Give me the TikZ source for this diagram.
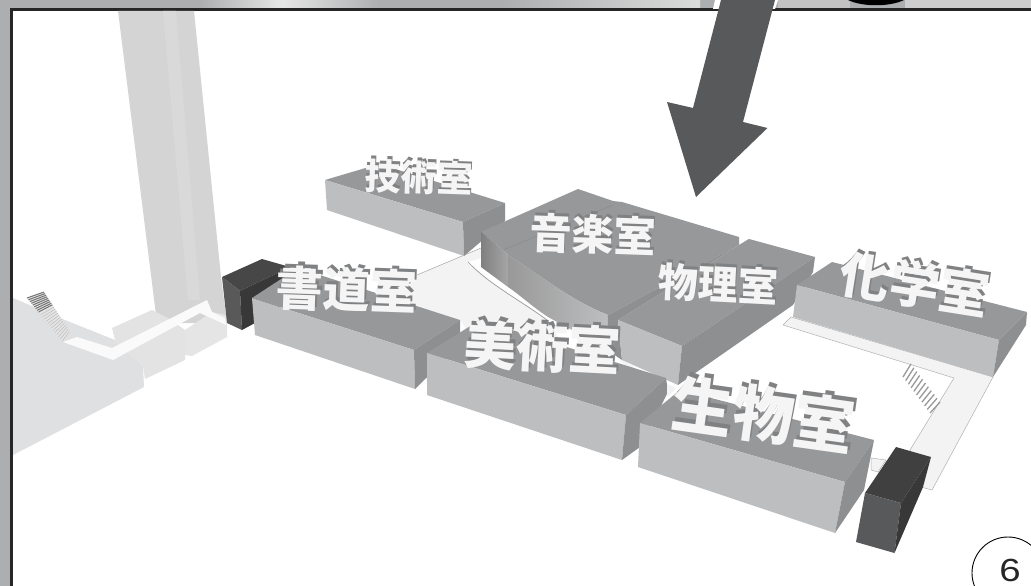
\documentclass[tikz,border=0pt]{standalone}
\usepackage{fontspec}
\setsansfont{Liberation Sans}
\newfontfamily\cjkfont{Noto Sans CJK JP Black}
\usetikzlibrary{calc}
\definecolor{topc}{HTML}{97989A}
\definecolor{leftc}{HTML}{BDBEC0}
\definecolor{rightc}{HTML}{8E8F91}
\definecolor{bandc}{HTML}{ADAEAF}
\definecolor{pale}{HTML}{DFE0E1}
\definecolor{floorc}{HTML}{F3F3F3}
\definecolor{arrowc}{HTML}{58595B}
\definecolor{extr}{HTML}{808183}
\tikzset{
  topface/.style={fill=topc},
  leftface/.style={fill=leftc},
  rightface/.style={fill=rightc},
  paleface/.style={fill=pale},
  floorface/.style={fill=floorc,draw=black!30,line width=.5pt},
  roomlabel/.style={inner sep=0pt,text=white!96!black,font=\cjkfont}
}
\newcommand{\roomtext}[5]{% name, pos, size, angle, text
  \node[roomlabel,rotate=#4] (#1) at (#2) {\fontsize{#3}{#3}\selectfont
    \rlap{\raisebox{.07em}{\hspace{.03em}\textcolor{extr}{#5}}}#5};
}
\begin{document}
\begin{tikzpicture}[x=1pt,y=-1pt]
\useasboundingbox (0,0) rectangle (1031,586);
% surround
\fill[bandc] (0,0) rectangle (1031,586);
\shade[left color=bandc,right color=white!70!bandc] (200,0) rectangle (282,9);
\shade[left color=white!70!bandc,right color=bandc] (282,0) rectangle (380,9);
\shade[left color=bandc,right color=white!55!bandc] (500,0) rectangle (700,9);
\fill[white!25!bandc] (778,0) rectangle (850,9);
\fill[white!40!bandc] (905,0) rectangle (1031,9);
\fill[black] (848,0) .. controls (862,7) and (890,7) .. (904,0) -- cycle;
% panel
\fill[white] (12,9.5) rectangle (1031,586);
\draw[black!85,line width=2.6pt] (11.5,586) -- (11.5,9.5) -- (1031,9.5);

% pillar
\fill[fill=black!17] (118,11) -- (194,11) -- (221,277) -- (227,323) -- (157,323) -- cycle;
\fill[fill=black!15] (163,11) -- (176,11) -- (200,300) -- (188,300) -- cycle;
% left block
\fill[paleface] (13,298) -- (65,320) -- (115,340) -- (143,366) -- (144,387) -- (13,455) -- cycle;
\fill[fill=black!11] (112,328) -- (152,310) -- (168,318) -- (185,330) -- (185,360) -- (145,379) -- (143,366) -- (115,340) -- cycle;
\fill[fill=black!10] (185,330) -- (212,312) -- (227,315) -- (227,337) -- (192,356) -- (185,355) -- cycle;
% corridor
\fill[white!60!floorc] (63,342) -- (77,337) -- (112,348) -- (207,300) -- (212,312) -- (225,318) -- (226,325) -- (200,313) -- (113,360) -- cycle;
% left stairs
\fill[black!10] (27,298) -- (44,292) -- (70,332) -- (63,342) -- cycle;
\foreach \t in {0,.04,...,.34}
  \draw[black!55,line width=1pt] ($(27,298)!\t!(63,342)$) -- ($(44,292)!\t!(70,332)$);
\foreach \t in {.38,.43,...,.98}
  \draw[black!25,line width=.6pt] ($(27,298)!\t!(63,342)$) -- ($(44,292)!\t!(70,332)$);
% dark block left
\fill[fill=black!72] (222,277) -- (262,259) -- (290,267) -- (240,291) -- cycle;
\fill[fill=black!65] (222,277) -- (240,291) -- (242,330) -- (227,323) -- cycle;
\fill[fill=black!78] (240,291) -- (290,267) -- (290,300) -- (255,323) -- (242,330) -- cycle;

% central floor
\fill[floorc] (417,275) -- (481,248) -- (481,258) -- (468,262) .. controls (490,285) and (520,300) .. (547,320) -- (560,340) -- (470,335) -- (460,320) -- (400,303) -- cycle;
\draw[black!35,line width=.5pt] (417,275) -- (481,248);
\draw[black!40,line width=.7pt] (468,262) .. controls (490,285) and (520,300) .. (547,320);
% tech room
\fill[topface] (325,180) -- (379,164) -- (505,203) -- (463,222) -- cycle;
\fill[leftface] (325,180) -- (463,222) -- (464,256) -- (327,210) -- cycle;
\fill[rightface] (463,222) -- (505,203) -- (505,221) -- (464,256) -- cycle;
% music room back
\fill[topface] (481,232) -- (578,189) -- (613,201) -- (622,202) -- (739,237) -- (739,245) -- (608,315) .. controls (570,300) and (540,275) .. (508,255) -- (503,250) -- cycle;
\draw[rightc,line width=.8pt] (503,250) -- (613,205);
\shade[left color=black!50,right color=black!35] (481,232) -- (503,250) -- (508,255) -- (508,287) -- (481,267) -- cycle;
% music room front wall
\shade[left color=black!40,right color=leftc] (508,255) .. controls (540,275) and (570,300) .. (608,315) -- (607,350) -- (600,345) -- (548,317) .. controls (530,305) and (520,295) .. (508,287) -- cycle;
% physics room
\fill[rightface] (608,315) -- (739,245) -- (749,239) -- (618,320) -- (622,360) -- (607,350) -- cycle;
\fill[topface] (618,320) -- (749,239) -- (815,257) -- (682,346) -- cycle;
\fill[leftface] (618,320) -- (682,346) -- (678,385) -- (622,360) -- cycle;
\fill[rightface] (682,346) -- (815,257) -- (813,272) -- (793,305) -- (678,385) -- cycle;
% little white pieces
\fill[floorc] (617,358) -- (635,367) -- (630,369) -- cycle;
% calligraphy
\fill[topface] (252,298) -- (298,268) -- (460,320) -- (414,350) -- cycle;
\fill[leftface] (252,298) -- (414,350) -- (415,389) -- (255,335) -- cycle;
\fill[rightface] (414,350) -- (460,320) -- (460,345) -- (415,389) -- cycle;
% art
\fill[topface] (427,353) -- (480,320) -- (666,378) -- (626,415) -- cycle;
\fill[leftface] (427,353) -- (626,415) -- (622,460) -- (427,395) -- cycle;
\fill[rightface] (626,415) -- (666,378) -- (668,392) -- (640,447) -- (622,460) -- cycle;
\fill[floorc] (667,384) -- (676,388) -- (667,398) -- cycle;
% biology
\fill[topface] (640,423) -- (680,390) -- (874,440) -- (845,482) -- cycle;
\fill[leftface] (640,423) -- (845,482) -- (835,533) -- (638,467) -- cycle;
\fill[rightface] (845,482) -- (874,440) -- (864,490) -- (835,533) -- cycle;
% chemistry floor
\fill[floorface] (783,325) -- (791,317) -- (993,377) -- (932,490) -- (921,487) -- (910,450) -- (954,378) -- cycle;
\fill[floorface] (871,458) -- (886,460) -- (878,472) -- (871,470) -- cycle;
% chemistry
\fill[topface] (797,285) -- (832,262) -- (1027,312) -- (999,340) -- cycle;
\fill[leftface] (797,285) -- (999,340) -- (993,377) -- (793,317) -- cycle;
\fill[rightface] (999,340) -- (1027,312) -- (1026,325) -- (993,377) -- cycle;
% right stairs
\foreach \t in {0,.1,...,1.01}
  \draw[black!40,line width=1.3pt] ($(911,364)!\t!(940,402)$) -- ($(903,377)!\t!(930,413)$);
% dark block right
\fill[fill=black!75] (896,447) -- (931,457) -- (901,503) -- (865,493) -- cycle;
\fill[fill=arrowc] (865,493) -- (901,503) -- (894.5,553) -- (856,542) -- cycle;
\fill[fill=black!78] (931,457) -- (923,487) -- (894.5,553) -- (901,503) -- cycle;
% labels
\roomtext{tech}{419,176}{36}{-2}{技術室}
\roomtext{calli}{347,288}{47}{-2}{書道室}
\roomtext{music}{593,233}{42}{-2}{音楽室}
\roomtext{phys}{718,283}{40}{-3}{物理室}
\roomtext{chem}{915,283}{50}{-9}{化学室}
\roomtext{art}{543,346}{52}{-3}{美術室}
\roomtext{bio}{764,413}{61}{-8}{生物室}
% arrow
\fill[white] (715,0) -- (778,0) -- (775,9) -- (713,9) -- cycle;
\fill[arrowc] (721,0) -- (775,0) -- (743,122) -- (767.5,128) -- (696,197) -- (667,102) -- (693,108) -- cycle;
% page number
\begin{scope}
\clip (0,0) rectangle (1031,586);
\node[circle,draw=black,line width=.9pt,minimum size=72pt,inner sep=0pt] (page) at (1008,573) {};
\end{scope}
\node[inner sep=0pt,xscale=1.2,font=\sffamily\fontsize{32}{32}\selectfont,text=black!85] (num) at (1010,570) {6};
\end{tikzpicture}
\end{document}
